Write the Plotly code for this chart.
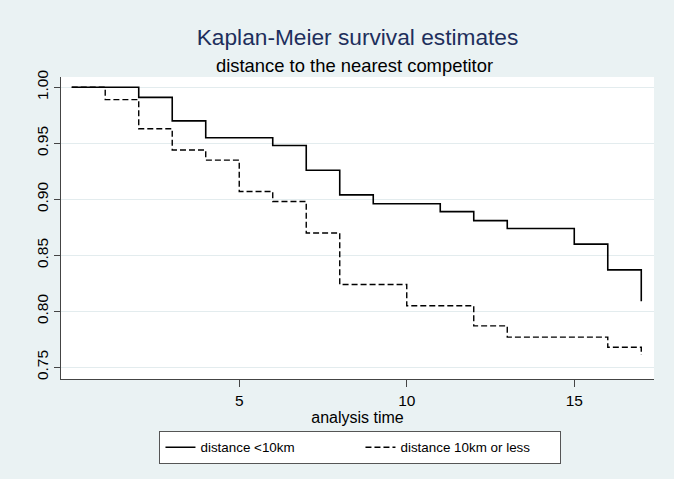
import plotly.graph_objects as go

# Kaplan-Meier step estimates
time_lt10 = [0, 2, 3, 4, 6, 7, 8, 9, 11, 12, 13, 15, 16, 17]
surv_lt10 = [1.0, 0.991, 0.970, 0.955, 0.948, 0.926, 0.904, 0.896, 0.889, 0.881, 0.874, 0.860, 0.837, 0.809]

time_ge10 = [0, 1, 2, 3, 4, 5, 6, 7, 8, 10, 12, 13, 16, 17]
surv_ge10 = [1.0, 0.989, 0.963, 0.944, 0.935, 0.907, 0.898, 0.870, 0.824, 0.805, 0.787, 0.777, 0.768, 0.761]

x_ticks = [5, 10, 15]
y_ticks = [0.75, 0.80, 0.85, 0.90, 0.95, 1.00]

FONT = "Liberation Sans, Arial, sans-serif"
BG = "#EAF2F3"

fig = go.Figure()
fig.add_trace(go.Scatter(
    x=time_lt10, y=surv_lt10, mode="lines", line_shape="hv",
    name="distance &lt;10km",
    line=dict(color="black", width=1.6),
))
fig.add_trace(go.Scatter(
    x=time_ge10, y=surv_ge10, mode="lines", line_shape="hv",
    name="distance 10km or less",
    line=dict(color="black", width=1.4, dash="6px,3px"),
))

fig.update_layout(
    width=674, height=479,
    paper_bgcolor=BG, plot_bgcolor="white",
    margin=dict(l=61, r=20, t=77, b=100),
    font=dict(family=FONT, size=15.5, color="black"),
    title=dict(
        text="Kaplan-Meier survival estimates",
        x=0.5, xref="paper", xanchor="center",
        y=1 - 37 / 479, yref="container", yanchor="middle",
        font=dict(family=FONT, size=22.7, color="#1E2F5C"),
    ),
    annotations=[dict(
        text="distance to the nearest competitor",
        xref="paper", yref="paper", x=0.495, y=1 + 11 / 302,
        xanchor="center", yanchor="middle", showarrow=False,
        font=dict(family=FONT, size=18.4, color="black"),
    )],
    showlegend=True,
    legend=dict(
        orientation="h", x=0.505, xanchor="center", xref="paper",
        y=-(431 - 379) / 302, yanchor="top", yref="paper",
        bgcolor="white", bordercolor="#555555", borderwidth=1,
        font=dict(family=FONT, size=13.4, color="black"),
        entrywidth=155, entrywidthmode="pixels",
    ),
    xaxis=dict(
        range=[-0.32, 17.38], tickvals=x_ticks, ticktext=[str(v) for v in x_ticks],
        showgrid=False, zeroline=False,
        showline=True, linecolor="#444444", linewidth=1,
        ticks="outside", ticklen=7, tickcolor="#444444", tickwidth=1,
        tickfont=dict(family=FONT, size=15.5, color="black"),
        title=dict(text="analysis time", standoff=0,
                   font=dict(family=FONT, size=16, color="black")),
    ),
    yaxis=dict(
        range=[0.7396, 1.0092], tickvals=y_ticks,
        ticktext=[f"{v:.2f}" for v in y_ticks], tickangle=-90,
        showgrid=True, gridcolor="#E3ECEE", gridwidth=1, zeroline=False,
        showline=True, linecolor="#444444", linewidth=1,
        ticks="outside", ticklen=6, tickcolor="#444444", tickwidth=1,
        tickfont=dict(family=FONT, size=15.5, color="black"),
    ),
)

fig.write_html("out.html")
